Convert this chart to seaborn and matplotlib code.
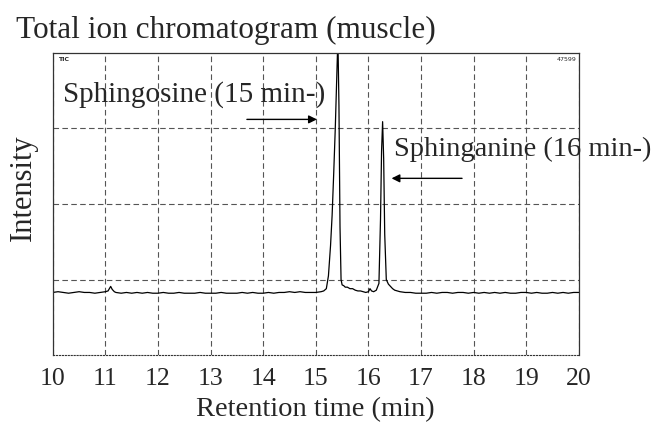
import matplotlib
matplotlib.use("Agg")
import matplotlib.pyplot as plt
import seaborn as sns
import pandas as pd

# === Data (intensity in grid units, 0-4)
rt_base_a = [10.0, 10.1, 10.2, 10.3, 10.4, 10.5, 10.6, 10.7, 10.8, 10.9, 11.0,
             11.05, 11.1, 11.13, 11.17, 11.2, 11.3, 11.4, 11.5, 11.6, 11.7, 11.8, 11.9,
             12.0, 12.1, 12.2, 12.3, 12.4, 12.5, 12.6, 12.7, 12.8, 12.9, 13.0,
             13.1, 13.2, 13.3, 13.4, 13.5, 13.6, 13.7, 13.8, 13.9, 14.0,
             14.1, 14.2, 14.3, 14.4, 14.5, 14.6, 14.7, 14.8, 14.9, 15.0, 15.1, 15.15]
int_base_a = [0.83, 0.84, 0.83, 0.82, 0.83, 0.84, 0.83, 0.83, 0.82, 0.83, 0.84,
              0.85, 0.91, 0.87, 0.84, 0.83, 0.82, 0.83, 0.82, 0.83, 0.82, 0.83, 0.82,
              0.82, 0.83, 0.82, 0.82, 0.83, 0.82, 0.82, 0.82, 0.83, 0.82, 0.82,
              0.82, 0.83, 0.82, 0.82, 0.82, 0.83, 0.82, 0.83, 0.82, 0.82,
              0.83, 0.82, 0.83, 0.83, 0.84, 0.83, 0.84, 0.83, 0.83, 0.83, 0.84, 0.85]

rt_peaks = [15.2, 15.24, 15.28, 15.31, 15.34, 15.37, 15.4, 15.42, 15.44, 15.46, 15.48,
            15.5, 15.53, 15.56, 15.6, 15.65, 15.7, 15.75, 15.8, 15.85, 15.9, 15.95,
            16.0, 16.03, 16.06, 16.1, 16.15, 16.2, 16.23, 16.25, 16.27, 16.29, 16.31,
            16.34, 16.38, 16.42, 16.46, 16.5, 16.55, 16.6, 16.7]
int_peaks = [0.88, 1.05, 1.45, 1.85, 2.4, 3.0, 3.7, 4.2, 3.3, 1.7, 1.0,
             0.93, 0.92, 0.90, 0.90, 0.88, 0.88, 0.86, 0.85, 0.85, 0.84, 0.83,
             0.84, 0.88, 0.85, 0.84, 0.86, 0.95, 1.8, 2.7, 3.09, 2.6, 1.6,
             1.0, 0.94, 0.91, 0.88, 0.86, 0.85, 0.84, 0.83]

rt_base_b = [16.8, 16.9, 17.0, 17.1, 17.2, 17.3, 17.4, 17.5, 17.6, 17.7, 17.8, 17.9,
             18.0, 18.1, 18.2, 18.3, 18.4, 18.5, 18.6, 18.7, 18.8, 18.9,
             19.0, 19.1, 19.2, 19.3, 19.4, 19.5, 19.6, 19.7, 19.8, 19.9, 20.0]
int_base_b = [0.83, 0.82, 0.82, 0.82, 0.83, 0.82, 0.83, 0.83, 0.82, 0.83, 0.83, 0.82,
              0.83, 0.82, 0.83, 0.82, 0.83, 0.82, 0.83, 0.82, 0.82, 0.83,
              0.83, 0.82, 0.83, 0.82, 0.82, 0.83, 0.82, 0.83, 0.82, 0.83, 0.83]

df = pd.DataFrame({
    "rt": rt_base_a + rt_peaks + rt_base_b,
    "intensity": int_base_a + int_peaks + int_base_b,
})

sns.set_style("white")
plt.rcParams['font.family'] = ['Liberation Serif', 'DejaVu Serif']

fig = plt.figure(figsize=(6.6, 4.3), dpi=100)
ax = fig.add_axes([0.080, 0.174, 0.797, 0.703])

sns.lineplot(data=df, x="rt", y="intensity", color="black", lw=0.9, ax=ax, sort=False)

ax.set_xlim(10, 20)
ax.set_ylim(0, 4)
ax.set_xticks(range(10, 21))
ax.set_yticks([1, 2, 3])
ax.set_yticklabels([])
ax.grid(True, color="#555555", linestyle=(0, (5, 3)), linewidth=0.8)
ax.tick_params(axis="x", labelsize=18.5, length=0, pad=9)
ax.tick_params(axis="y", length=0)

for side in ["left", "top", "right"]:
    ax.spines[side].set_color("#333333")
    ax.spines[side].set_linewidth(0.9)
ax.spines["bottom"].set_linestyle(":")
ax.spines["bottom"].set_color("#333333")

ax.set_xlabel("Retention time (min)", fontsize=20.5)
ax.xaxis.set_label_coords(0.5, -0.138)
ax.set_ylabel("Intensity", fontsize=22)
ax.yaxis.set_label_coords(-0.028, 0.553)

fig.text(0.024, 0.962, "Total ion chromatogram (muscle)", fontsize=22.5, va="top", ha="left")

# small instrument labels
ax.text(0.01, 0.985, "TIC", transform=ax.transAxes, fontsize=4.5, fontweight="bold",
        family="DejaVu Sans", va="top", ha="left")
ax.text(0.995, 0.985, "47599", transform=ax.transAxes, fontsize=4.5,
        family="DejaVu Sans", va="top", ha="right")

# peak annotations
ax.text(10.19, 3.45, "Sphingosine (15 min-)", fontsize=21, va="center", ha="left")
ax.annotate("", xy=(15.02, 3.12), xytext=(13.69, 3.12),
            arrowprops=dict(arrowstyle="-|>", color="black", lw=1, mutation_scale=12,
                            shrinkA=0, shrinkB=0))
ax.text(16.49, 2.72, "Sphinganine (16 min-)", fontsize=20.5, va="center", ha="left",
        clip_on=False)
ax.annotate("", xy=(16.44, 2.34), xytext=(17.78, 2.34),
            arrowprops=dict(arrowstyle="-|>", color="black", lw=1, mutation_scale=12,
                            shrinkA=0, shrinkB=0))

fig.savefig("out.png", dpi=100)
